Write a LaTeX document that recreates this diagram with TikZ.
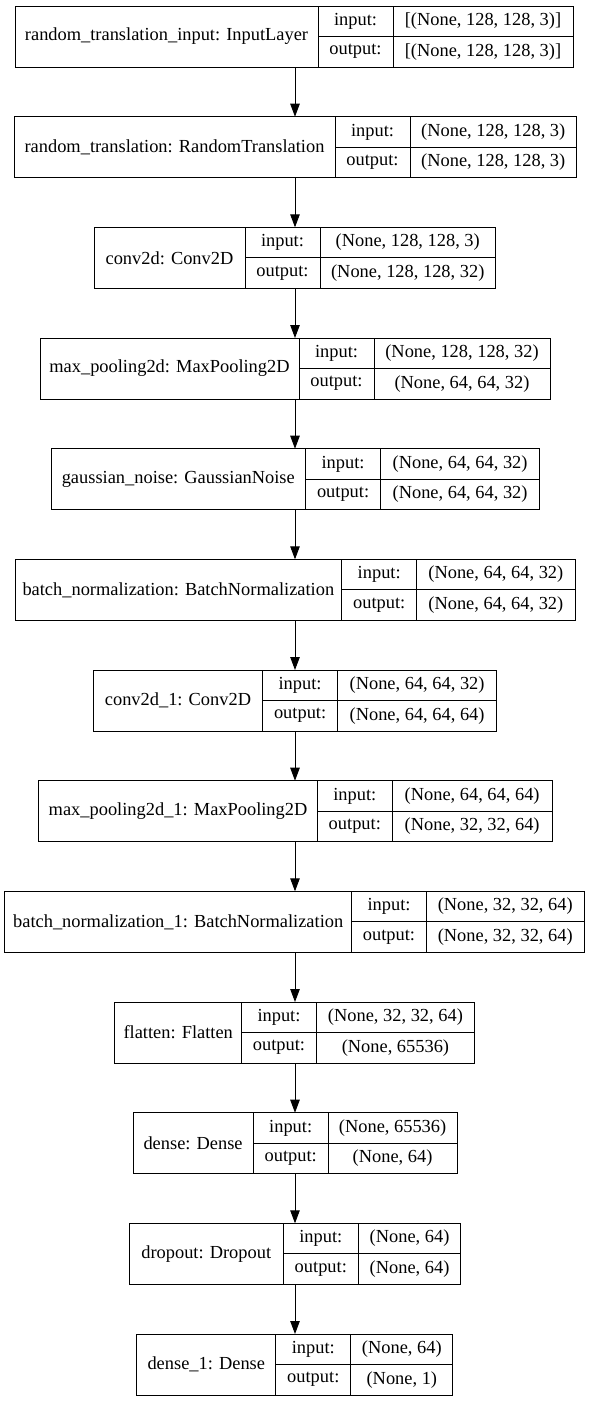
\documentclass[tikz,border=0pt]{standalone}
\usepackage{fontspec}
\setmainfont{Liberation Serif}
\usepackage{tikz}
\usetikzlibrary{positioning, arrows.meta}
\tikzstyle{layer} = [rectangle, minimum height=61pt, inner sep=0pt, outer sep=0pt, anchor=north west, text centered, draw=black]
\tikzstyle{field} = [rectangle, minimum width=75pt, minimum height=30.5pt, inner sep=0pt, outer sep=0pt, text centered, draw=black]
\tikzstyle{arrow} = [line width=0.9pt,->,>={Triangle[length=13pt,width=9.5pt]}]

\begin{document}
\begin{tikzpicture}[x=1pt, y=-1pt, line width=0.9pt, font=\fontsize{18.4}{22}\selectfont]
				\useasboundingbox (0,0) rectangle (591,1401);
				\coordinate (axis) at (295,0);

				\node (inp) [layer, minimum width=303pt] at (15,6) {random\_translation\_input: InputLayer};
				\node (inp-i) [field, right=0pt of inp.north east, anchor=north west] {input:};
				\node (inp-o) [field, below=0pt of inp-i] {output:};
				\node (inp-iv) [field, minimum width=180pt, right=0pt of inp-i] {[(None, 128, 128, 3)]};
				\node (inp-ov) [field, minimum width=180pt, right=0pt of inp-o] {[(None, 128, 128, 3)]};

				\node (rt) [layer, minimum width=321pt] at (14,116.7) {random\_translation: RandomTranslation};
				\node (rt-i) [field, right=0pt of rt.north east, anchor=north west] {input:};
				\node (rt-o) [field, below=0pt of rt-i] {output:};
				\node (rt-iv) [field, minimum width=166.5pt, right=0pt of rt-i] {(None, 128, 128, 3)};
				\node (rt-ov) [field, minimum width=166.5pt, right=0pt of rt-o] {(None, 128, 128, 3)};

				\node (conv) [layer, minimum width=151pt] at (94,227.3) {conv2d: Conv2D};
				\node (conv-i) [field, right=0pt of conv.north east, anchor=north west] {input:};
				\node (conv-o) [field, below=0pt of conv-i] {output:};
				\node (conv-iv) [field, minimum width=175.5pt, right=0pt of conv-i] {(None, 128, 128, 3)};
				\node (conv-ov) [field, minimum width=175.5pt, right=0pt of conv-o] {(None, 128, 128, 32)};

				\node (pool) [layer, minimum width=259pt] at (40,338) {max\_pooling2d: MaxPooling2D};
				\node (pool-i) [field, right=0pt of pool.north east, anchor=north west] {input:};
				\node (pool-o) [field, below=0pt of pool-i] {output:};
				\node (pool-iv) [field, minimum width=176pt, right=0pt of pool-i] {(None, 128, 128, 32)};
				\node (pool-ov) [field, minimum width=176pt, right=0pt of pool-o] {(None, 64, 64, 32)};

				\node (noise) [layer, minimum width=254.6pt] at (51,448.7) {gaussian\_noise: GaussianNoise};
				\node (noise-i) [field, right=0pt of noise.north east, anchor=north west] {input:};
				\node (noise-o) [field, below=0pt of noise-i] {output:};
				\node (noise-iv) [field, minimum width=159pt, right=0pt of noise-i] {(None, 64, 64, 32)};
				\node (noise-ov) [field, minimum width=159pt, right=0pt of noise-o] {(None, 64, 64, 32)};

				\node (bn) [layer, minimum width=326.7pt] at (15,559.3) {batch\_normalization: BatchNormalization};
				\node (bn-i) [field, right=0pt of bn.north east, anchor=north west] {input:};
				\node (bn-o) [field, below=0pt of bn-i] {output:};
				\node (bn-iv) [field, minimum width=158.3pt, right=0pt of bn-i] {(None, 64, 64, 32)};
				\node (bn-ov) [field, minimum width=158.3pt, right=0pt of bn-o] {(None, 64, 64, 32)};

				\node (conv1) [layer, minimum width=169.2pt] at (93.4,670) {conv2d\_1: Conv2D};
				\node (conv1-i) [field, right=0pt of conv1.north east, anchor=north west] {input:};
				\node (conv1-o) [field, below=0pt of conv1-i] {output:};
				\node (conv1-iv) [field, minimum width=159pt, right=0pt of conv1-i] {(None, 64, 64, 32)};
				\node (conv1-ov) [field, minimum width=159pt, right=0pt of conv1-o] {(None, 64, 64, 64)};

				\node (pool1) [layer, minimum width=278.5pt] at (38.8,780.7) {max\_pooling2d\_1: MaxPooling2D};
				\node (pool1-i) [field, right=0pt of pool1.north east, anchor=north west] {input:};
				\node (pool1-o) [field, below=0pt of pool1-i] {output:};
				\node (pool1-iv) [field, minimum width=159.7pt, right=0pt of pool1-i] {(None, 64, 64, 64)};
				\node (pool1-ov) [field, minimum width=159.7pt, right=0pt of pool1-o] {(None, 32, 32, 64)};

				\node (bn1) [layer, minimum width=346.6pt] at (4.9,891.3) {batch\_normalization\_1: BatchNormalization};
				\node (bn1-i) [field, right=0pt of bn1.north east, anchor=north west] {input:};
				\node (bn1-o) [field, below=0pt of bn1-i] {output:};
				\node (bn1-iv) [field, minimum width=157.5pt, right=0pt of bn1-i] {(None, 32, 32, 64)};
				\node (bn1-ov) [field, minimum width=157.5pt, right=0pt of bn1-o] {(None, 32, 32, 64)};

				\node (flat) [layer, minimum width=126.6pt] at (114.9,1002) {flatten: Flatten};
				\node (flat-i) [field, right=0pt of flat.north east, anchor=north west] {input:};
				\node (flat-o) [field, below=0pt of flat-i] {output:};
				\node (flat-iv) [field, minimum width=157.9pt, right=0pt of flat-i] {(None, 32, 32, 64)};
				\node (flat-ov) [field, minimum width=157.9pt, right=0pt of flat-o] {(None, 65536)};

				\node (dense) [layer, minimum width=120.2pt] at (133,1112.7) {dense: Dense};
				\node (dense-i) [field, right=0pt of dense.north east, anchor=north west] {input:};
				\node (dense-o) [field, below=0pt of dense-i] {output:};
				\node (dense-iv) [field, minimum width=128.8pt, right=0pt of dense-i] {(None, 65536)};
				\node (dense-ov) [field, minimum width=128.8pt, right=0pt of dense-o] {(None, 64)};

				\node (drop) [layer, minimum width=154.1pt] at (129.2,1223.3) {dropout: Dropout};
				\node (drop-i) [field, right=0pt of drop.north east, anchor=north west] {input:};
				\node (drop-o) [field, below=0pt of drop-i] {output:};
				\node (drop-iv) [field, minimum width=102.5pt, right=0pt of drop-i] {(None, 64)};
				\node (drop-ov) [field, minimum width=102.5pt, right=0pt of drop-o] {(None, 64)};

				\node (dense1) [layer, minimum width=139pt] at (136.8,1334) {dense\_1: Dense};
				\node (dense1-i) [field, right=0pt of dense1.north east, anchor=north west] {input:};
				\node (dense1-o) [field, below=0pt of dense1-i] {output:};
				\node (dense1-iv) [field, minimum width=102.1pt, right=0pt of dense1-i] {(None, 64)};
				\node (dense1-ov) [field, minimum width=102.1pt, right=0pt of dense1-o] {(None, 1)};

				\draw [arrow] (inp.south -| axis) -- (rt.north -| axis);
				\draw [arrow] (rt.south -| axis) -- (conv.north -| axis);
				\draw [arrow] (conv.south -| axis) -- (pool.north -| axis);
				\draw [arrow] (pool.south -| axis) -- (noise.north -| axis);
				\draw [arrow] (noise.south -| axis) -- (bn.north -| axis);
				\draw [arrow] (bn.south -| axis) -- (conv1.north -| axis);
				\draw [arrow] (conv1.south -| axis) -- (pool1.north -| axis);
				\draw [arrow] (pool1.south -| axis) -- (bn1.north -| axis);
				\draw [arrow] (bn1.south -| axis) -- (flat.north -| axis);
				\draw [arrow] (flat.south -| axis) -- (dense.north -| axis);
				\draw [arrow] (dense.south -| axis) -- (drop.north -| axis);
				\draw [arrow] (drop.south -| axis) -- (dense1.north -| axis);

			\end{tikzpicture}
\end{document}
